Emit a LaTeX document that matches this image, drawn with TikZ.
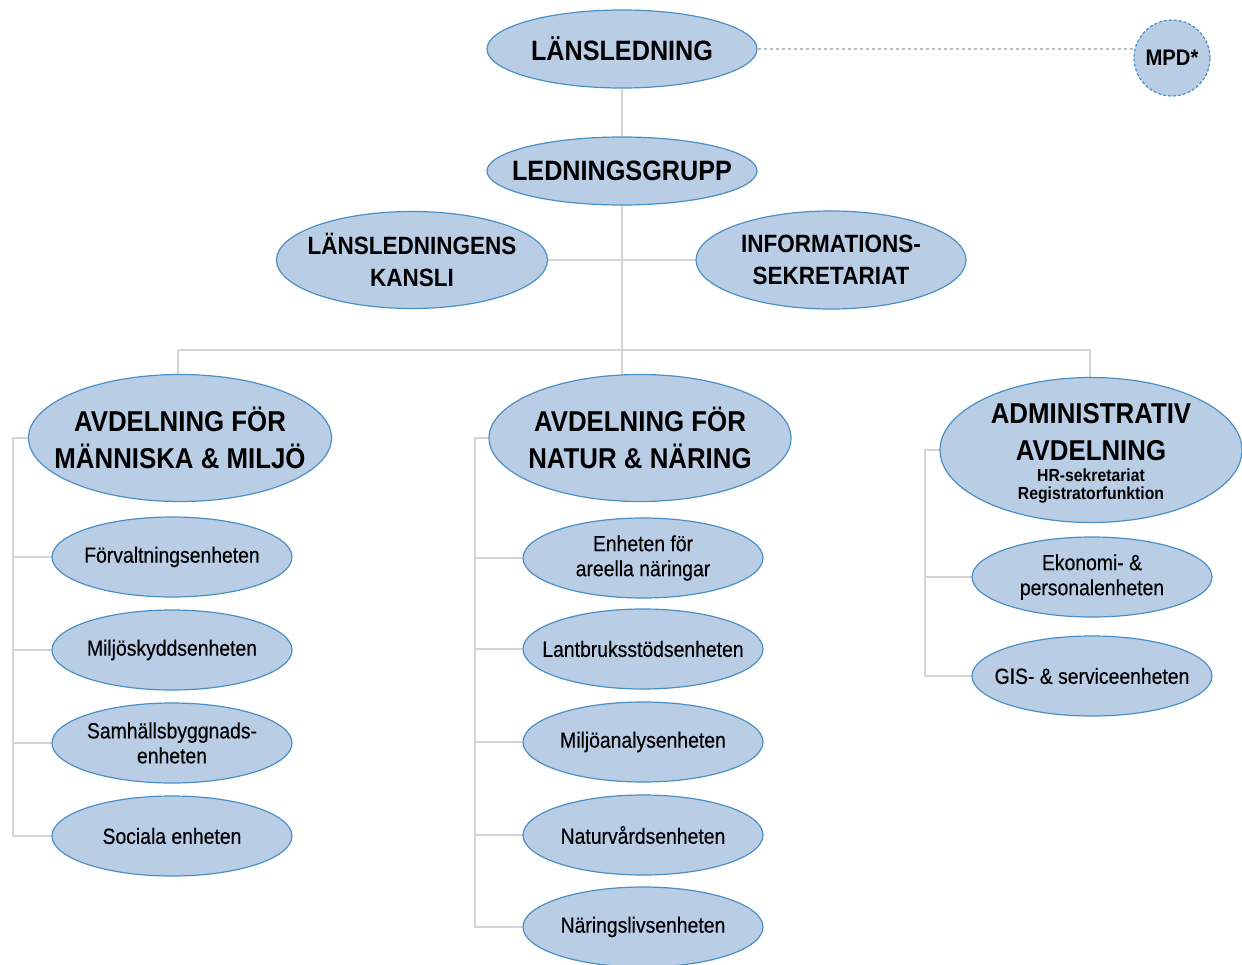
\documentclass[tikz,border=0pt]{standalone}
\usepackage{fontspec}
\setmainfont{Liberation Sans}[FakeStretch=0.9]
\newfontfamily\medfont{Liberation Sans}[FakeStretch=0.88, FakeBold=0.4]
\usetikzlibrary{shapes.geometric,backgrounds}
\definecolor{ovfill}{HTML}{B9CDE5}
\definecolor{ovline}{HTML}{4A90C6}
\definecolor{conn}{HTML}{D4D4D4}
\definecolor{dotc}{HTML}{BDBDBD}
\begin{document}
\begin{tikzpicture}[x=1pt,y=-1pt,
  oval/.style={ellipse, draw=ovline, fill=ovfill, line width=1.2pt, inner sep=0pt},
  unit/.style={oval, minimum width=240pt, minimum height=80pt},
  big/.style={font=\fontsize{28}{36}\selectfont\bfseries, align=center, inner sep=0pt},
  dept/.style={font=\fontsize{28.7}{37}\selectfont\bfseries, align=center, inner sep=0pt},
  mid/.style={font=\fontsize{25}{32}\selectfont\bfseries, align=center, inner sep=0pt},
  small/.style={font=\medfont\fontsize{22}{25}\selectfont, align=center, inner sep=0pt},
  tiny/.style={font=\fontsize{17.5}{18}\selectfont\bfseries, align=center, inner sep=0pt},
  link/.style={draw=conn, line width=1.6pt},
]
\useasboundingbox (0,0) rectangle (1242,964);

% top level
\node[oval, minimum width=270pt, minimum height=78pt, label={[big]center:{LÄNSLEDNING}}] (lans) at (622,49) {};
\node[oval, dash pattern=on 3pt off 2pt, minimum width=76pt, minimum height=76pt,
      label={[font=\fontsize{22.5}{22}\selectfont\bfseries, inner sep=0pt]center:{MPD*}}] (mpd) at (1172,58) {};
\node[oval, minimum width=270pt, minimum height=68pt, label={[big]center:{LEDNINGSGRUPP}}] (led) at (622,171) {};
\node[oval, minimum width=271pt, minimum height=97pt, label={[mid]center:{LÄNSLEDNINGENS\\KANSLI}}] (kan) at (412,260) {};
\node[oval, minimum width=270pt, minimum height=98pt, label={[mid]center:{INFORMATIONS-\\SEKRETARIAT}}] (inf) at (831,260) {};

% departments
\node[oval, minimum width=303pt, minimum height=127pt, label={[dept]center:{AVDELNING FÖR\\MÄNNISKA \& MILJÖ}}] (a1) at (180,438) {};
\node[oval, minimum width=302pt, minimum height=127pt, label={[dept]center:{AVDELNING FÖR\\NATUR \& NÄRING}}] (a2) at (640,438) {};
\node[oval, minimum width=302pt, minimum height=145pt,
      label={[dept, yshift=18pt]center:{ADMINISTRATIV\\AVDELNING}},
      label={[tiny, yshift=-36pt]center:{HR-sekretariat\\Registratorfunktion}}] (a3) at (1091,450) {};

% units of department 1
\node[unit, label={[small]center:{Förvaltningsenheten}}] (c11) at (172,557) {};
\node[unit, label={[small]center:{Miljöskyddsenheten}}] (c12) at (172,650) {};
\node[unit, label={[small]center:{Samhällsbyggnads-\\enheten}}] (c13) at (172,743) {};
\node[unit, label={[small]center:{Sociala enheten}}] (c14) at (172,836) {};

% units of department 2
\node[unit, label={[small]center:{Enheten för\\areella näringar}}] (c21) at (643,558) {};
\node[unit, label={[small]center:{Lantbruksstödsenheten}}] (c22) at (643,649) {};
\node[unit, label={[small]center:{Miljöanalysenheten}}] (c23) at (643,742) {};
\node[unit, label={[small]center:{Naturvårdsenheten}}] (c24) at (643,835) {};
\node[unit, label={[small]center:{Näringslivsenheten}}] (c25) at (643,927) {};

% units of department 3
\node[unit, label={[small]center:{Ekonomi- \&\\personalenheten}}] (c31) at (1092,577) {};
\node[unit, label={[small]center:{GIS- \& serviceenheten}}] (c32) at (1092,676) {};

\begin{scope}[on background layer]
  \draw[draw=dotc, line width=1.2pt, dash pattern=on 3pt off 3pt] (lans.east) -- (lans.east -| mpd.west);
  \coordinate (bm) at (622,350);
  \coordinate (bl) at (178,350);
  \coordinate (br) at (1090,350);
  \draw[link] (lans) -- (led);
  \draw[link] (led.center) -- (bm);
  \draw[link] (kan.center) -- (inf.center);
  \draw[link] (bl) -- (br);
  \draw[link] (bl) -- (bl |- a1.center);
  \draw[link] (bm) -- (bm |- a2.center);
  \draw[link] (br) -- (br |- a3.center);

  \coordinate (v1) at (13,438);
  \draw[link] (a1.center) -- (v1) -- (v1 |- c14.center) -- (c14.center);
  \foreach \c in {c11,c12,c13} \draw[link] (v1 |- \c.center) -- (\c.center);

  \coordinate (v2) at (475,438);
  \draw[link] (a2.center) -- (v2) -- (v2 |- c25.center) -- (c25.center);
  \foreach \c in {c21,c22,c23,c24} \draw[link] (v2 |- \c.center) -- (\c.center);

  \coordinate (v3) at (925,450);
  \draw[link] (a3.center) -- (v3) -- (v3 |- c32.center) -- (c32.center);
  \draw[link] (v3 |- c31.center) -- (c31.center);
\end{scope}
\end{tikzpicture}
\end{document}
